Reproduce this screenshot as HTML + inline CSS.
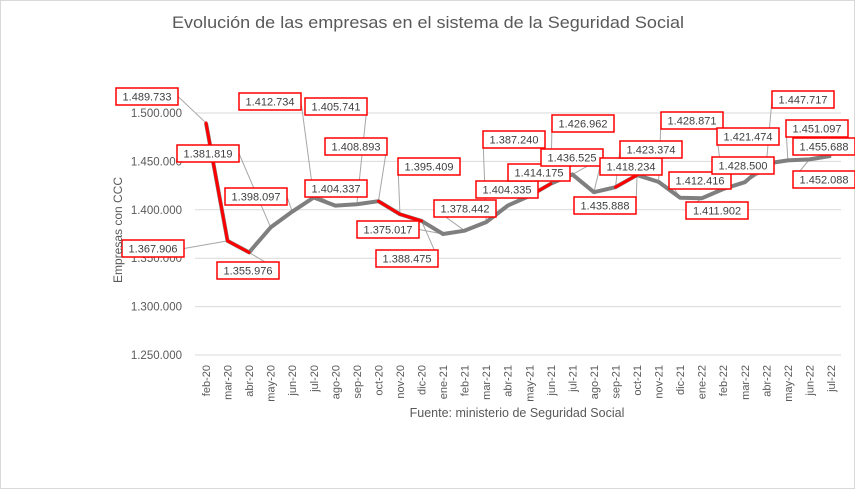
<!DOCTYPE html>
<html><head><meta charset="utf-8"><style>
html,body{margin:0;padding:0;background:#fff;}
svg{display:block;font-family:"Liberation Sans",sans-serif;}
</style></head><body>
<svg id="chart" width="855" height="489" viewBox="0 0 855 489">
<rect x="0.5" y="0.5" width="854" height="488" fill="#fff" stroke="#d9d9d9"/>
<text x="428" y="28" text-anchor="middle" font-size="17" fill="#595959" textLength="512" lengthAdjust="spacingAndGlyphs">Evolución de las empresas en el sistema de la Seguridad Social</text>
<g id="grid"></g><g id="yticks"></g><g id="xticks"></g><g id="leaders"></g><g id="line"></g><g id="labels"></g>
<text transform="translate(122,230) rotate(-90)" text-anchor="middle" font-size="12" fill="#595959">Empresas con CCC</text>
<text x="517" y="417" text-anchor="middle" font-size="12.5" fill="#595959">Fuente: ministerio de Seguridad Social</text>
</svg>
<script>
const categories=["feb-20","mar-20","abr-20","may-20","jun-20","jul-20","ago-20","sep-20","oct-20","nov-20","dic-20","ene-21","feb-21","mar-21","abr-21","may-21","jun-21","jul-21","ago-21","sep-21","oct-21","nov-21","dic-21","ene-22","feb-22","mar-22","abr-22","may-22","jun-22","jul-22"];
const values=[1489733,1367906,1355976,1381819,1398097,1412734,1404337,1405741,1408893,1395409,1388475,1375017,1378442,1387240,1404335,1414175,1426962,1436525,1418234,1423374,1435888,1428871,1412416,1411902,1421474,1428500,1447717,1451097,1452088,1455688];
const yTicks=[1250000,1300000,1350000,1400000,1450000,1500000];
const redSegments=[0,1,8,9,15,19];
// label box positions (annotation layout, left/top)
const labelPos=[[116,88],[122,240],[217,262],[177,145],[225,188],[239,93],[305,180],[305,98],[325,138],[398,158],[376,250],[357,221],[434,200],[483,131],[476,181],[508,164],[552,115],[541,149],[600,158],[620,141],[574,197],[661,112],[669,172],[686,202],[717,128],[712,157],[772,91],[786,120],[793,171],[793,138]];
const NS="http://www.w3.org/2000/svg";
const x0=206,x1=831,yTop=113,yBot=355,vMin=1250000,vMax=1500000;
const xs=i=>x0+(x1-x0)*i/(categories.length-1);
const ys=v=>yBot-(v-vMin)/(vMax-vMin)*(yBot-yTop);
const fmt=v=>String(v).replace(/\B(?=(\d{3})+(?!\d))/g,".");
function mk(tag,attrs,parent){const e=document.createElementNS(NS,tag);for(const k in attrs)e.setAttribute(k,attrs[k]);document.getElementById(parent).appendChild(e);return e;}
yTicks.forEach(t=>{
  const g=mk("line",{x1:195,x2:841,y1:ys(t),y2:ys(t),stroke:"#d9d9d9","stroke-width":1},"grid");
  
  
  const l=mk("text",{x:182,y:ys(t)+4,"text-anchor":"end","font-size":"11.5",fill:"#595959"},"yticks");
  l.textContent=fmt(t);
  
  
});
categories.forEach((c,i)=>{
  const t=mk("text",{transform:`translate(${xs(i)+4},365) rotate(-90)`,"text-anchor":"end","font-size":"11",fill:"#595959"},"xticks");
  t.textContent=c;
  
  
});
const p=mk("polyline",{points:values.map((v,i)=>xs(i)+","+ys(v)).join(" "),fill:"none",stroke:"#7f7f7f","stroke-width":4,"stroke-linejoin":"round"},"line");


redSegments.forEach(i=>{
  const s=mk("line",{x1:xs(i),y1:ys(values[i]),x2:xs(i+1),y2:ys(values[i+1]),stroke:"#ff0000","stroke-width":3,"stroke-linecap":"round"},"line");
  
  
});
values.forEach((v,i)=>{
  const [lx,ly]=labelPos[i];const w=62,h=17;
  const cx=lx+w/2,cy=ly+h/2;
  const ax=xs(i)<cx?lx:lx+w;
  const ld=mk("line",{x1:ax,y1:cy,x2:xs(i),y2:ys(v),stroke:"#a6a6a6","stroke-width":1},"leaders");
  
  
  const r=mk("rect",{x:lx,y:ly,width:w,height:h,fill:"#fff",stroke:"#ff0000","stroke-width":1.5},"labels");
  
  
  const t=mk("text",{x:cx,y:cy+4,"text-anchor":"middle","font-size":"11",fill:"#404040"},"labels");
  t.textContent=fmt(v);
  
  
});
</script>
</body></html>
